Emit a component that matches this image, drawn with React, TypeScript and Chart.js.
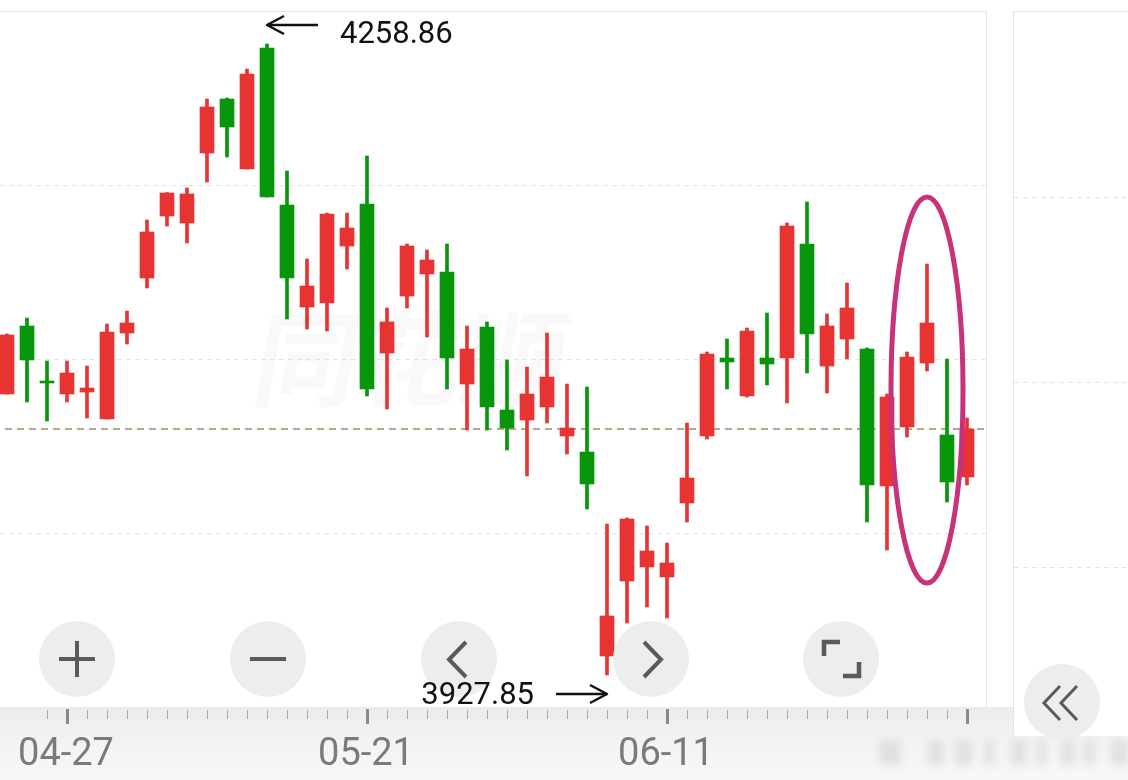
import React, { useEffect, useRef } from "react";
import { Chart, registerables } from "chart.js";

Chart.register(...registerables);

const W = 1128;
const H = 780;

// ---- data (2020 trading days) ----
const dates = [
  "04-22", "04-23", "04-24", "04-27", "04-28", "04-29", "04-30", "05-06", "05-07", "05-08",
  "05-11", "05-12", "05-13", "05-14", "05-15", "05-18", "05-19", "05-20", "05-21", "05-22",
  "05-25", "05-26", "05-27", "05-28", "05-29", "06-01", "06-02", "06-03", "06-04", "06-05",
  "06-08", "06-09", "06-10", "06-11", "06-12", "06-15", "06-16", "06-17", "06-18", "06-19",
  "06-22", "06-23", "06-24", "06-29", "06-30", "07-01", "07-02", "07-03", "07-06",
];
const opens = [
  4075.26, 4110.93, 4081.6, 4075.26, 4076.3, 4062.14, 4107.25, 4136.11, 4168.63, 4164.96,
  4201.68, 4230.01, 4193.29, 4256.76, 4174.4, 4120.89, 4122.99, 4152.89, 4174.93, 4096.76,
  4126.66, 4138.21, 4139.25, 4080.5, 4110.4, 4066.86, 4061.62, 4068.44, 4053.22, 4044.83,
  3937.82, 3977.16, 3984.5, 3979.26, 4018.08, 4053.22, 4094.14, 4074.21, 4094.14, 4094.14,
  4153.94, 4089.94, 4104.11, 4098.86, 4026.99, 4057.94, 4091.52, 4053.75, 4031.72,
];
const highs = [
  4106.73, 4115.12, 4092.57, 4092.57, 4089.94, 4111.98, 4118.8, 4166.53, 4180.9, 4183.32,
  4230.01, 4230.53, 4245.74, 4258.86, 4192.24, 4146.07, 4170.2, 4170.2, 4200.11, 4120.37,
  4153.94, 4150.79, 4153.94, 4110.93, 4113.03, 4093.09, 4089.42, 4107.25, 4080.5, 4078.93,
  4007.06, 4010.21, 4006.01, 3997.09, 4060.04, 4097.29, 4104.11, 4109.88, 4117.75, 4164.96,
  4175.97, 4117.22, 4133.48, 4099.39, 4075.26, 4097.29, 4143.45, 4093.62, 4062.67,
];
const lows = [
  4075.26, 4071.06, 4061.09, 4071.06, 4062.67, 4062.14, 4101.48, 4130.86, 4163.38, 4154.47,
  4186.47, 4199.58, 4193.29, 4178.6, 4114.6, 4109.35, 4108.3, 4140.83, 4074.21, 4067.39,
  4120.37, 4105.16, 4077.88, 4056.37, 4056.37, 4045.88, 4032.24, 4060.04, 4043.78, 4014.93,
  3927.85, 3955.13, 3963.52, 3957.75, 4008.11, 4051.65, 4077.88, 4073.68, 4079.98, 4070.53,
  4086.27, 4075.78, 4093.62, 4008.11, 3993.42, 4052.7, 4087.32, 4018.6, 4027.52,
];
const closes = [
  4106.21, 4093.09, 4081.03, 4086.27, 4078.4, 4107.78, 4112.5, 4160.24, 4180.7, 4180.17,
  4225.81, 4215.32, 4243.12, 4178.6, 4136.11, 4131.91, 4169.68, 4162.34, 4077.88, 4113.03,
  4152.89, 4145.55, 4094.14, 4098.86, 4068.44, 4057.42, 4075.26, 4084.17, 4057.42, 4028.04,
  3958.8, 4009.68, 3992.9, 3986.6, 4031.19, 4096.24, 4092.04, 4108.3, 4090.99, 4163.38,
  4106.73, 4110.93, 4120.37, 4027.52, 4073.68, 4094.66, 4112.5, 4029.09, 4056.9,
];
const labelDates = ["04-27", "05-21", "06-11"];
const majorTickDates = ["04-27", "05-21", "06-11", "07-06"];
const highlightDate = "07-02";
const yRange = [3911.06, 4275.65];
const xView = [-0.35, 48.95];
const gridDivisions = 4;

const RED = "#E83333";
const GREEN = "#07960A";
const FONT = 'Roboto, "Noto Sans", sans-serif';

const idx = dates.map((_, i) => i);
const candleColors = idx.map((i) => (closes[i] >= opens[i] ? RED : GREEN));

function seg(ctx: CanvasRenderingContext2D, x1: number, y1: number, x2: number, y2: number) {
  ctx.beginPath();
  ctx.moveTo(x1, y1);
  ctx.lineTo(x2, y2);
  ctx.stroke();
}
function poly(ctx: CanvasRenderingContext2D, pts: number[][]) {
  ctx.beginPath();
  ctx.moveTo(pts[0][0], pts[0][1]);
  for (let k = 1; k < pts.length; k++) ctx.lineTo(pts[k][0], pts[k][1]);
  ctx.stroke();
}

const decor = {
  id: "decor",
  beforeDraw(chart: any) {
    const { ctx, chartArea: ca } = chart;
    const xs = chart.scales.x;
    ctx.save();
    ctx.fillStyle = "#ffffff";
    ctx.fillRect(0, 0, W, H);

    // bottom axis band
    const g = ctx.createLinearGradient(0, ca.bottom, 0, H);
    g.addColorStop(0, "#ececec");
    g.addColorStop(0.5, "#f3f3f3");
    g.addColorStop(1, "#f8f8f8");
    ctx.fillStyle = g;
    ctx.fillRect(0, ca.bottom, W, H - ca.bottom);

    // blurred bits at the bottom right
    ctx.filter = "blur(4px)";
    ctx.fillStyle = "#e0e0e0";
    const blobs = [[879, 22], [928, 16], [955, 17], [985, 9], [1011, 15], [1037, 9], [1061, 13], [1084, 11], [1111, 17]];
    blobs.forEach(([bx, bw]) => ctx.fillRect(bx, 740, bw, 25));
    ctx.filter = "none";

    // right side panel
    ctx.fillStyle = "#ffffff";
    ctx.fillRect(1014, 12, W - 1014, 724);
    ctx.strokeStyle = "#e3e3e3";
    ctx.lineWidth = 1;
    seg(ctx, 1013.5, 11, 1013.5, 736);
    seg(ctx, 1013, 11.5, W, 11.5);
    ctx.setLineDash([5, 4]);
    [197.5, 382.5, 567.5].forEach((gy) => seg(ctx, 1014, gy, W, gy));
    ctx.setLineDash([]);

    // plot frame
    ctx.strokeStyle = "#e6e6e6";
    seg(ctx, 0, ca.top - 0.5, ca.right + 1, ca.top - 0.5);
    seg(ctx, ca.right + 0.5, ca.top, ca.right + 0.5, ca.bottom);

    // x ticks
    dates.forEach((d, i) => {
      if (i < 2) return;
      const px = Math.round(xs.getPixelForValue(i));
      if (majorTickDates.includes(d)) {
        ctx.fillStyle = "#8a8a8a";
        ctx.fillRect(px - 1, 709, 3, 15);
      } else {
        ctx.fillStyle = "#a8a8a8";
        ctx.fillRect(px, 710, 1, 9);
      }
    });

    // x labels
    ctx.font = `38px ${FONT}`;
    ctx.fillStyle = "#7a7a7a";
    ctx.textAlign = "center";
    ctx.textBaseline = "alphabetic";
    labelDates.forEach((d) => {
      const i = dates.indexOf(d);
      ctx.fillText(d, xs.getPixelForValue(i) - 1, 765);
    });
    ctx.restore();
  },
  beforeDatasetsDraw(chart: any) {
    const { ctx, chartArea: ca } = chart;
    const ys = chart.scales.y;
    ctx.save();
    // watermark
    ctx.fillStyle = "rgba(0,0,0,0.022)";
    ctx.font = `bold 104px "Noto Sans CJK SC", sans-serif`;
    ctx.textAlign = "center";
    ctx.textBaseline = "middle";
    ctx.setTransform(1, 0, -0.18, 1, 0, 0);
    ctx.fillText("同花顺", 412 + 0.18 * 358, 358);
    ctx.setTransform(1, 0, 0, 1, 0, 0);

    // horizontal grid
    ctx.strokeStyle = "#e4e4e4";
    ctx.lineWidth = 1;
    ctx.setLineDash([5, 4]);
    const step = (yRange[1] - yRange[0]) / gridDivisions;
    for (let k = 1; k < gridDivisions; k++) {
      const py = Math.floor(ys.getPixelForValue(yRange[0] + k * step)) + 0.5;
      seg(ctx, ca.left, py, ca.right, py);
    }
    // last close line
    ctx.strokeStyle = "#b6aa8e";
    ctx.lineWidth = 2;
    ctx.setLineDash([7, 5]);
    const cy = Math.round(ys.getPixelForValue(closes[closes.length - 1]));
    seg(ctx, ca.left + 5, cy, ca.right, cy);
    ctx.restore();
  },
  afterDraw(chart: any) {
    const { ctx } = chart;
    const xs = chart.scales.x;
    const ys = chart.scales.y;
    ctx.save();

    // highlight ellipse
    const hx = xs.getPixelForValue(dates.indexOf(highlightDate));
    ctx.strokeStyle = "#C8327A";
    ctx.lineWidth = 5;
    ctx.beginPath();
    ctx.ellipse(hx, 390, 36, 193, 0, 0, Math.PI * 2);
    ctx.stroke();

    // round buttons
    const btns = [[77, 659], [268, 659], [459, 659], [651, 659], [841, 659], [1062, 702]];
    ctx.fillStyle = "#ededed";
    btns.forEach(([bx, by]) => {
      ctx.beginPath();
      ctx.arc(bx, by, 38, 0, Math.PI * 2);
      ctx.fill();
    });
    ctx.strokeStyle = "#5a5a5a";
    ctx.lineWidth = 4;
    ctx.lineCap = "butt";
    ctx.lineJoin = "miter";
    seg(ctx, 59, 659, 95, 659);
    seg(ctx, 77, 641, 77, 677);
    seg(ctx, 250, 659, 286, 659);
    poly(ctx, [[466, 642], [449, 659.5], [466, 677]]);
    poly(ctx, [[644, 642], [661, 659.5], [644, 677]]);
    ctx.lineWidth = 4.5;
    poly(ctx, [[840, 642], [824, 642], [824, 656]]);
    poly(ctx, [[843, 676], [859, 676], [859, 662]]);
    ctx.lineWidth = 3;
    poly(ctx, [[1060, 686], [1044, 703], [1060, 720]]);
    poly(ctx, [[1077, 686], [1061, 703], [1077, 720]]);

    // high / low annotations
    const hiVal = Math.max(...highs);
    const loVal = Math.min(...lows);
    const hiIdx = highs.indexOf(hiVal);
    const loIdx = lows.indexOf(loVal);
    const hx2 = xs.getPixelForValue(hiIdx);
    const hy = ys.getPixelForValue(hiVal);
    const lx = xs.getPixelForValue(loIdx);
    const ly = ys.getPixelForValue(loVal);

    ctx.strokeStyle = "#111111";
    ctx.lineWidth = 2.5;
    ctx.lineJoin = "round";
    const ay = hy - 19;
    seg(ctx, hx2, ay, hx2 + 51, ay);
    poly(ctx, [[hx2 + 17, ay - 9], [hx2, ay], [hx2 + 17, ay + 9]]);
    const by = ly + 19;
    seg(ctx, lx - 51, by, lx, by);
    poly(ctx, [[lx - 17, by - 9], [lx, by], [lx - 17, by + 9]]);

    ctx.fillStyle = "#111111";
    ctx.font = `31px ${FONT}`;
    ctx.textBaseline = "alphabetic";
    ctx.textAlign = "left";
    ctx.fillText(hiVal.toFixed(2), hx2 + 73, hy - 1);
    ctx.textAlign = "right";
    ctx.fillText(loVal.toFixed(2), lx - 73, ly + 29);
    ctx.restore();
  },
};

export default function App() {
  const ref = useRef<HTMLCanvasElement>(null);
  useEffect(() => {
    const canvas = ref.current;
    if (!canvas) return;
    const chart = new Chart(canvas, {
      type: "bar",
      data: {
        datasets: [
          {
            label: "body",
            data: idx.map((i) => ({ x: i, y: [Math.min(opens[i], closes[i]), Math.max(opens[i], closes[i])] })),
            backgroundColor: candleColors,
            barThickness: 14,
            minBarLength: 2,
            grouped: false,
            borderWidth: 0,
            order: 0,
          },
          {
            label: "wick",
            data: idx.map((i) => ({ x: i, y: [lows[i], highs[i]] })),
            backgroundColor: candleColors,
            barThickness: 3,
            grouped: false,
            borderWidth: 0,
            order: 1,
          },
        ],
      } as any,
      options: {
        animation: false,
        responsive: false,
        devicePixelRatio: 1,
        events: [],
        layout: { padding: { left: 0, top: 12, right: 142, bottom: 73 } },
        plugins: { legend: { display: false }, tooltip: { enabled: false } },
        scales: {
          x: { type: "linear", min: xView[0], max: xView[1], offset: false, display: false, grid: { offset: false } },
          y: { type: "linear", min: yRange[0], max: yRange[1], display: false },
        },
      } as any,
      plugins: [decor as any],
    });
    return () => chart.destroy();
  }, []);
  return (
    <div style={{ position: "fixed", left: 0, top: 0, width: W, height: H, background: "#fff" }}>
      <canvas ref={ref} width={W} height={H} style={{ display: "block", width: W, height: H }} />
    </div>
  );
}
